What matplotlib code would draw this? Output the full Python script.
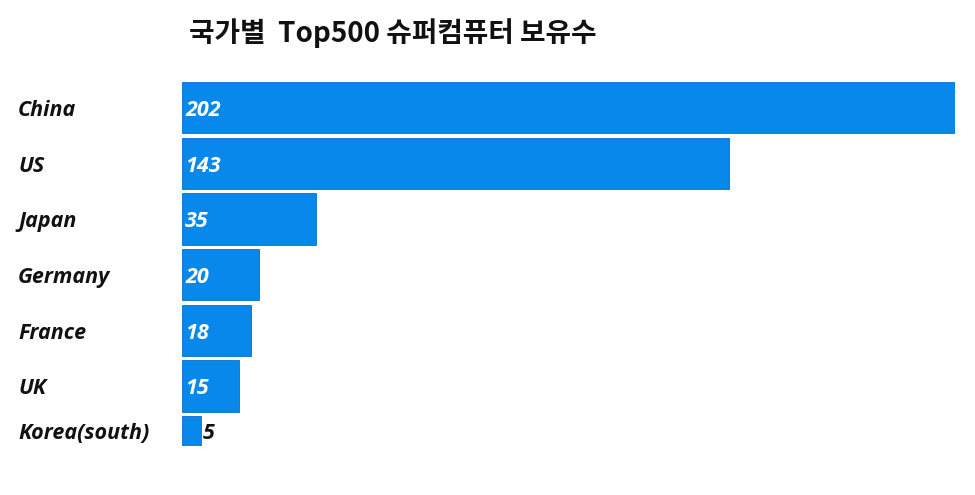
import matplotlib.pyplot as plt
import numpy as np

countries = ['China', 'US', 'Japan', 'Germany', 'France', 'UK', 'Korea(south)']
counts = [202, 143, 35, 20, 18, 15, 5]
title = '국가별  Top500 슈퍼컴퓨터 보유수'

bar_color = '#0888EA'
lat = ['Open Sans', 'DejaVu Sans']

fig = plt.figure(figsize=(9.75, 4.95), dpi=100)
ax = fig.add_axes([0.1867, 0.099, 0.7928, 0.7354])

y = np.arange(len(countries))
ax.barh(y, counts, height=0.92, color=bar_color, edgecolor='#0A6FC8', linewidth=0.6)
ax.set_xlim(0, max(counts))
ax.set_ylim(6.075, -0.46)

for s in ax.spines.values():
    s.set_visible(False)
ax.set_xticks([])
ax.set_yticks([])

# last bar is cut by the axes bottom, so centre its text on the visible part
text_y = [yi + 0.05 if yi < 6 else 5.85 for yi in y]

# country names at left edge
for yy, name in zip(text_y, countries):
    ax.text(-0.212, yy, name, transform=ax.get_yaxis_transform(), ha='left', va='center',
            fontsize=15.5, fontweight='bold', fontstyle='italic', family=lat, color='#111111')

# values
for yy, v in zip(text_y, counts):
    if v >= 10:
        ax.text(0.8, yy, str(v), ha='left', va='center', color='white',
                fontsize=15.5, fontweight='bold', fontstyle='italic', family=lat)
    else:
        ax.text(v + 0.5, yy, str(v), ha='left', va='center', color='#111111',
                fontsize=15.5, fontweight='bold', fontstyle='italic', family=lat)

fig.text(0.403, 0.933, title, ha='center', va='center', fontsize=20,
         family=['Noto Sans CJK KR', 'DejaVu Sans'], fontweight='bold', color='#111111')

fig.savefig('out.png', dpi=100, facecolor='white')
